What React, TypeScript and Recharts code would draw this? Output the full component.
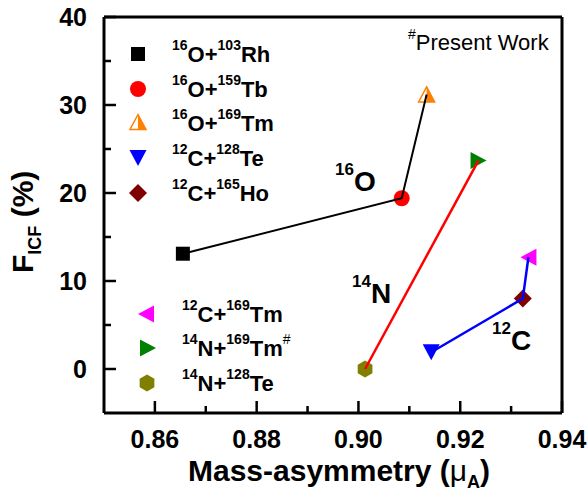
import React from 'react';
import { ScatterChart, Scatter, XAxis, YAxis } from 'recharts';

// reaction = [projectile mass, projectile, target mass, target]
const reactions: [string, string, string, string][] = [
  ['16', 'O', '103', 'Rh'],
  ['16', 'O', '159', 'Tb'],
  ['16', 'O', '169', 'Tm'],
  ['12', 'C', '128', 'Te'],
  ['12', 'C', '165', 'Ho'],
  ['12', 'C', '169', 'Tm'],
  ['14', 'N', '169', 'Tm'],
  ['14', 'N', '128', 'Te'],
];
const presentWork = [false, false, false, false, false, false, true, false];
const massAsymmetry = [0.8655, 0.9085, 0.9134, 0.9143, 0.9323, 0.9334, 0.9236, 0.9013];
const fIcf = [13.1, 19.4, 31.2, 1.9, 8.0, 12.7, 23.7, 0.0];
const markerKinds = ['square', 'circle', 'halfUp', 'down', 'diamond', 'left', 'right', 'hexagon'];
const markerColors = ['#000000', '#ff0000', '#ff8000', '#0000ff', '#800000', '#ff00ff', '#008000', '#808000'];

// points joined by a line, per projectile
const o16Chain = [0, 1, 2];
const n14Chain = [7, 6];
const c12Chain = [3, 4, 5];

const xTicks = [0.86, 0.87, 0.88, 0.89, 0.9, 0.91, 0.92, 0.93, 0.94];
const yTicks = [0, 5, 10, 15, 20, 25, 30, 35, 40];

const FONT = "'Liberation Sans', Arial, sans-serif";

const toPoints = (idx: number[]) => idx.map((i) => ({ x: massAsymmetry[i], y: fIcf[i] }));

const renderMarker = (kind: string, color: string, cx: number, cy: number) => {
  switch (kind) {
    case 'square':
      return <rect x={cx - 7} y={cy - 7} width={14} height={14} fill={color} />;
    case 'circle':
      return <circle cx={cx} cy={cy} r={8} fill={color} />;
    case 'halfUp':
      return (
        <g>
          <polygon
            points={`${cx},${cy - 7.5} ${cx + 8},${cy + 7.5} ${cx - 8},${cy + 7.5}`}
            fill="#fff"
            stroke={color}
            strokeWidth={1.5}
          />
          <polygon points={`${cx},${cy - 7.5} ${cx + 8},${cy + 7.5} ${cx},${cy + 7.5}`} fill={color} />
        </g>
      );
    case 'down':
      return <polygon points={`${cx - 8.5},${cy - 8} ${cx + 8.5},${cy - 8} ${cx},${cy + 8}`} fill={color} />;
    case 'diamond':
      return <polygon points={`${cx},${cy - 9} ${cx + 9},${cy} ${cx},${cy + 9} ${cx - 9},${cy}`} fill={color} />;
    case 'left':
      return <polygon points={`${cx - 8},${cy} ${cx + 8},${cy - 8.5} ${cx + 8},${cy + 8.5}`} fill={color} />;
    case 'right':
      return <polygon points={`${cx + 8},${cy} ${cx - 8},${cy - 8.5} ${cx - 8},${cy + 8.5}`} fill={color} />;
    case 'hexagon': {
      const pts = [-90, -30, 30, 90, 150, 210]
        .map((a) => `${cx + 8.5 * Math.cos((a * Math.PI) / 180)},${cy + 8.5 * Math.sin((a * Math.PI) / 180)}`)
        .join(' ');
      return <polygon points={pts} fill={color} />;
    }
    default:
      return <g />;
  }
};

const isMajorX = (v: number) => Math.round(v * 100) % 2 === 0;
const isMajorY = (v: number) => Math.round(v) % 10 === 0;

const BottomTick = (props: any) => {
  const { x, y, payload } = props;
  const major = isMajorX(payload.value);
  return (
    <g>
      <line x1={x} x2={x} y1={y} y2={y - (major ? 12 : 7)} stroke="#000" strokeWidth={2.5} />
      {major && (
        <text x={x} y={y + 35} textAnchor="middle" fontFamily={FONT} fontWeight="bold" fontSize={25} fill="#000">
          {payload.value.toFixed(2)}
        </text>
      )}
    </g>
  );
};

const TopTick = (props: any) => {
  const { x, y, payload } = props;
  const major = isMajorX(payload.value);
  return <line x1={x} x2={x} y1={y} y2={y + (major ? 12 : 7)} stroke="#000" strokeWidth={2.5} />;
};

const LeftTick = (props: any) => {
  const { x, y, payload } = props;
  const major = isMajorY(payload.value);
  return (
    <g>
      <line x1={x} x2={x + (major ? 12 : 7)} y1={y} y2={y} stroke="#000" strokeWidth={2.5} />
      {major && (
        <text x={x - 17} y={y + 8.5} textAnchor="end" fontFamily={FONT} fontWeight="bold" fontSize={25} fill="#000">
          {payload.value}
        </text>
      )}
    </g>
  );
};

const RightTick = (props: any) => {
  const { x, y, payload } = props;
  const major = isMajorY(payload.value);
  return <line x1={x} x2={x - (major ? 12 : 7)} y1={y} y2={y} stroke="#000" strokeWidth={2.5} />;
};

const Empty = () => <g />;

const ReactionText = ({ i, x, y }: { i: number; x: number; y: number }) => {
  const [pm, p, tm, t] = reactions[i];
  return (
    <text x={x} y={y} fontFamily={FONT} fontWeight="bold" fontSize={22} fill="#000">
      <tspan fontSize={14} dy={-12}>{pm}</tspan>
      <tspan fontSize={22} dy={12}>{p}+</tspan>
      <tspan fontSize={14} dy={-12}>{tm}</tspan>
      <tspan fontSize={22} dy={12}>{t}</tspan>
      {presentWork[i] && (
        <tspan fontSize={14} fontWeight="normal" dy={-12}>#</tspan>
      )}
    </text>
  );
};

const Tag = ({ mass, sym, x, y }: { mass: string; sym: string; x: number; y: number }) => (
  <text x={x} y={y} fontFamily={FONT} fontWeight="bold" fontSize={28} fill="#000">
    <tspan fontSize={17} dy={-16}>{mass}</tspan>
    <tspan fontSize={28} dy={16}>{sym}</tspan>
  </text>
);

const legendRows = [
  { i: 0, mx: 138, my: 54, tx: 172, ty: 62 },
  { i: 1, mx: 138, my: 89, tx: 172, ty: 97 },
  { i: 2, mx: 138, my: 122, tx: 172, ty: 131 },
  { i: 3, mx: 138, my: 158, tx: 172, ty: 166 },
  { i: 4, mx: 138, my: 193, tx: 172, ty: 201 },
  { i: 5, mx: 146, my: 314, tx: 182, ty: 322 },
  { i: 6, mx: 148, my: 348, tx: 182, ty: 356 },
  { i: 7, mx: 147, my: 383, tx: 182, ty: 391 },
];

export default function App() {
  return (
    <div style={{ position: 'absolute', left: 0, top: 0, width: 588, height: 494, background: '#fff' }}>
      <ScatterChart width={588} height={494} margin={{ top: 16, right: 25, bottom: 0, left: 0 }}>
        <XAxis
          xAxisId="bottom"
          dataKey="x"
          type="number"
          domain={[0.85, 0.94]}
          ticks={xTicks}
          interval={0}
          height={81}
          tickSize={0}
          tickMargin={0}
          tick={<BottomTick />}
          axisLine={{ stroke: '#000', strokeWidth: 3 }}
          tickLine={false}
        />
        <XAxis
          xAxisId="top"
          orientation="top"
          dataKey="x"
          type="number"
          domain={[0.85, 0.94]}
          ticks={xTicks}
          interval={0}
          height={1}
          tickSize={0}
          tickMargin={0}
          tick={<TopTick />}
          axisLine={{ stroke: '#000', strokeWidth: 3 }}
          tickLine={false}
        />
        <YAxis
          yAxisId="left"
          dataKey="y"
          type="number"
          domain={[-5, 40]}
          ticks={yTicks}
          interval={0}
          width={104}
          tickSize={0}
          tickMargin={0}
          tick={<LeftTick />}
          axisLine={{ stroke: '#000', strokeWidth: 3 }}
          tickLine={false}
        />
        <YAxis
          yAxisId="right"
          orientation="right"
          dataKey="y"
          type="number"
          domain={[-5, 40]}
          ticks={yTicks}
          interval={0}
          width={1}
          tickSize={0}
          tickMargin={0}
          tick={<RightTick />}
          axisLine={{ stroke: '#000', strokeWidth: 3 }}
          tickLine={false}
        />
        {reactions.map((r, i) => (
          <Scatter
            key={r.join('')}
            name={r.join('')}
            xAxisId="bottom"
            yAxisId="left"
            data={toPoints([i])}
            isAnimationActive={false}
            shape={(p: any) => renderMarker(markerKinds[i], markerColors[i], p.cx, p.cy)}
          />
        ))}
        <Scatter
          xAxisId="bottom"
          yAxisId="left"
          data={toPoints(o16Chain)}
          line={{ stroke: '#000', strokeWidth: 2 }}
          lineType="joint"
          shape={Empty}
          isAnimationActive={false}
        />
        <Scatter
          xAxisId="bottom"
          yAxisId="left"
          data={toPoints(n14Chain)}
          line={{ stroke: '#ff0000', strokeWidth: 2.5 }}
          lineType="joint"
          shape={Empty}
          isAnimationActive={false}
        />
        <Scatter
          xAxisId="bottom"
          yAxisId="left"
          data={toPoints(c12Chain)}
          line={{ stroke: '#0000ff', strokeWidth: 2.5 }}
          lineType="joint"
          shape={Empty}
          isAnimationActive={false}
        />
      </ScatterChart>
      <svg
        width={588}
        height={494}
        style={{ position: 'absolute', left: 0, top: 0, pointerEvents: 'none' }}
      >
        {legendRows.map((row) => (
          <g key={row.i}>
            {renderMarker(markerKinds[row.i], markerColors[row.i], row.mx, row.my)}
            <ReactionText i={row.i} x={row.tx} y={row.ty} />
          </g>
        ))}
        <text x={408} y={50} fontFamily={FONT} fontSize={22} fill="#000">
          <tspan fontSize={14} dy={-11}>#</tspan>
          <tspan fontSize={22} dy={11}>Present Work</tspan>
        </text>
        <Tag mass="16" sym="O" x={335} y={191} />
        <Tag mass="14" sym="N" x={352} y={303} />
        <Tag mass="12" sym="C" x={492} y={350} />
        <text x={188} y={481} fontFamily={FONT} fontWeight="bold" fontSize={30} fill="#000">
          Mass-asymmetry (<tspan fontWeight="normal">μ</tspan>
          <tspan fontSize={18} dy={7}>A</tspan>
          <tspan dy={-7}>)</tspan>
        </text>
        <text transform="translate(33,273) rotate(-90)" fontFamily={FONT} fontWeight="bold" fontSize={30} fill="#000">
          F<tspan fontSize={18} dy={8}>ICF</tspan>
          <tspan dy={-8}>{'\u00a0(%)'}</tspan>
        </text>
      </svg>
    </div>
  );
}
